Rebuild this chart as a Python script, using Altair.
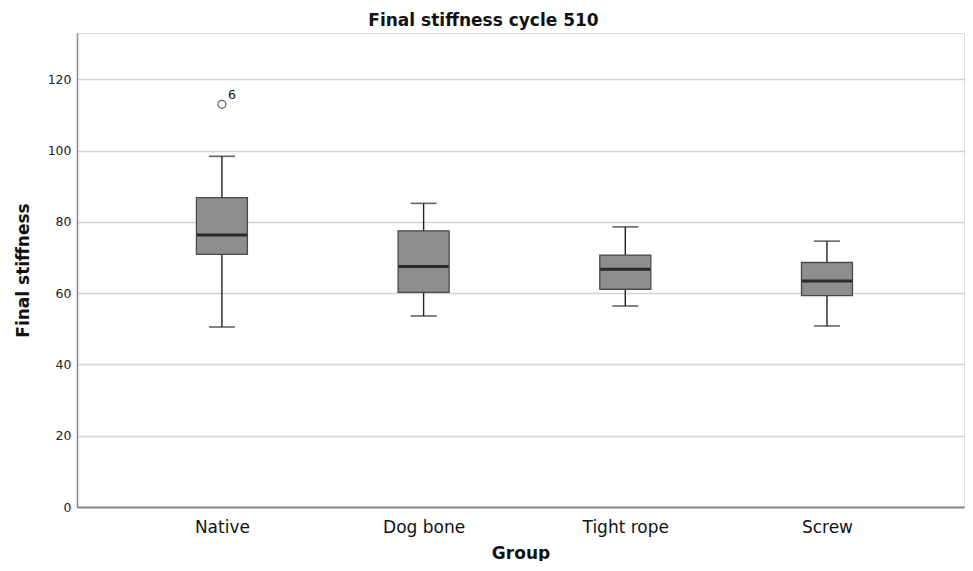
import altair as alt
import pandas as pd

groups = ["Native", "Dog bone", "Tight rope", "Screw"]
whisker_low = [50.5, 53.6, 56.4, 50.8]
q1 = [70.9, 60.2, 61.1, 59.3]
median = [76.3, 67.5, 66.7, 63.4]
q3 = [86.8, 77.5, 70.7, 68.6]
whisker_high = [98.4, 85.2, 78.6, 74.6]

outlier_group = ["Native"]
outlier_value = [113.0]
outlier_label = ["6"]

df = pd.DataFrame({
    "Group": groups, "lo": whisker_low, "q1": q1, "med": median,
    "q3": q3, "hi": whisker_high,
})
out = pd.DataFrame({"Group": outlier_group, "v": outlier_value, "lab": outlier_label})

FONT = "DejaVu Sans"

x = alt.X("Group:N", sort=groups,
          scale=alt.Scale(type="point", padding=0.699, align=0.514),
          axis=alt.Axis(title="Group", labelAngle=0, labelFontSize=17, labelColor="#111",
                        labelPadding=25, labelBaseline="alphabetic", ticks=False,
                        domainColor="#888", domainWidth=2,
                        titleFontSize=17, titleFontWeight="bold", titleBaseline="alphabetic",
                        titleY=51, titleColor="#111", labelFont=FONT, titleFont=FONT))
yscale = alt.Scale(domain=[0, 133], nice=False, zero=True)
yaxis = alt.Axis(title="Final stiffness", values=[0, 20, 40, 60, 80, 100, 120],
                 labelFontSize=12.5, labelColor="#222", labelPadding=6, ticks=False,
                 domainColor="#888", domainWidth=1.5, grid=True, gridColor="#d4d4d4",
                 gridWidth=1.5, titleFontSize=17, titleFontWeight="bold",
                 titleBaseline="alphabetic",
                 titleColor="#111", titleX=-49, labelFont=FONT, titleFont=FONT)

base = alt.Chart(df)

whisk = base.mark_rule(color="#222", strokeWidth=1.4).encode(
    x=x, y=alt.Y("lo:Q", scale=yscale, axis=yaxis), y2="hi:Q")
box = base.mark_bar(size=51, color="#8e8e8e", stroke="#4a4a4a", strokeWidth=1.3).encode(
    x=x, y=alt.Y("q1:Q", scale=yscale), y2="q3:Q")
med = base.mark_tick(size=50, thickness=3, color="#000", orient="horizontal").encode(
    x=x, y=alt.Y("med:Q", scale=yscale))
caplo = base.mark_tick(size=26, thickness=1.6, color="#222", orient="horizontal").encode(
    x=x, y=alt.Y("lo:Q", scale=yscale))
caphi = base.mark_tick(size=26, thickness=1.6, color="#222", orient="horizontal").encode(
    x=x, y=alt.Y("hi:Q", scale=yscale))
pts = alt.Chart(out).mark_point(shape="circle", filled=False, size=64, color="#222",
                                strokeWidth=1.2).encode(
    x=x, y=alt.Y("v:Q", scale=yscale))
labs = alt.Chart(out).mark_text(dx=10, dy=-9, fontSize=12.5, font=FONT, color="#111").encode(
    x=x, y=alt.Y("v:Q", scale=yscale), text="lab:N")

chart = alt.layer(whisk, box, med, caplo, caphi, pts, labs).properties(
    width=887, height=474,
    title=alt.TitleParams("Final stiffness cycle 510", fontSize=17, fontWeight="bold",
                          font=FONT, color="#111", offset=3, dx=-37),
    autosize=alt.AutoSizeParams(type="none"),
    padding={"left": 69, "top": 25, "right": 1, "bottom": 54},
).configure_view(stroke=None).configure(background="white")

chart.save("out.html", embed_options={"renderer": "svg", "actions": False})
